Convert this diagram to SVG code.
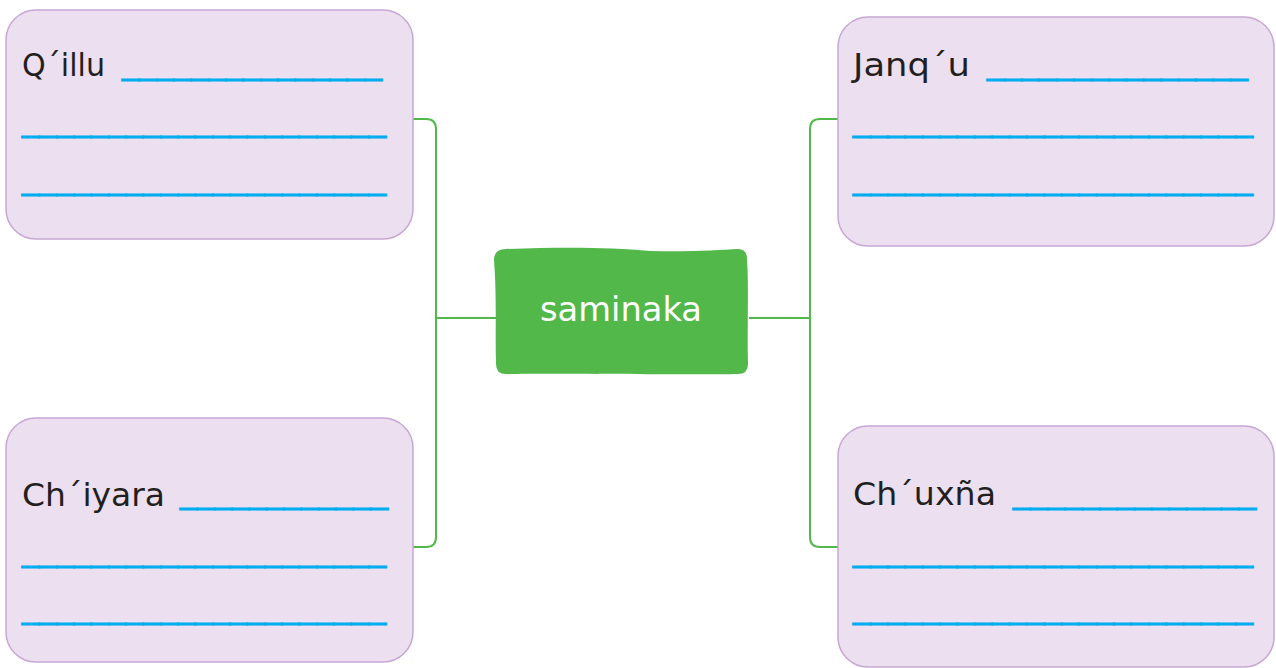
<svg xmlns="http://www.w3.org/2000/svg" width="1276" height="668" viewBox="0 0 1276 668">
<style>
.box{fill:#ece0f0;stroke:#c8a6d3;stroke-width:1.5}
.lbl{font-family:"DejaVu Sans",sans-serif;font-size:32px;fill:#231f20}
.blank{font-family:"Liberation Sans",sans-serif;font-size:32px;fill:#00aeef;stroke:#00aeef;stroke-width:1.2}
.conn{fill:none;stroke:#52b84a;stroke-width:2}
.ctr{font-family:"DejaVu Sans",sans-serif;font-size:34px;fill:#ffffff}
</style>
<rect width="1276" height="668" fill="#ffffff"/>
<g id="connectors">
<path class="conn" d="M413 119 H426 Q436 119 436 129 V537 Q436 547 426 547 H413 M436 318 H496"/>
<path class="conn" d="M838 119 H820 Q810 119 810 129 V537 Q810 547 820 547 H838 M749 318 H810"/>
</g>
<g id="center">
<path fill="#52b84a" d="M506 249 C560 247 610 247 650 251 C690 252 720 250 738 249 Q747 249 747 259 C749 290 747 330 748 364 Q748 374 738 374 C700 375 560 373 506 374 Q496 374 496 364 C495 330 497 300 494 260 Q494 249 506 249 Z"/>
<text class="ctr" x="540" y="321" textLength="162" lengthAdjust="spacingAndGlyphs">saminaka</text>
</g>
<g id="qillu">
<rect class="box" x="6" y="10" width="407" height="229" rx="30"/>
<text class="lbl" x="22" y="76" textLength="83" lengthAdjust="spacingAndGlyphs">Q´illu</text>
<text class="blank" x="122" y="75" textLength="260" lengthAdjust="spacingAndGlyphs">_______________</text>
<text class="blank" x="22" y="132" textLength="364" lengthAdjust="spacingAndGlyphs">_____________________</text>
<text class="blank" x="22" y="190" textLength="364" lengthAdjust="spacingAndGlyphs">_____________________</text>
</g>
<g id="janqu">
<rect class="box" x="838" y="17" width="436" height="229" rx="30"/>
<text class="lbl" x="853" y="76" textLength="117" lengthAdjust="spacingAndGlyphs">Janq´u</text>
<text class="blank" x="987" y="75" textLength="261" lengthAdjust="spacingAndGlyphs">_______________</text>
<text class="blank" x="853" y="132" textLength="400" lengthAdjust="spacingAndGlyphs">_______________________</text>
<text class="blank" x="853" y="190" textLength="400" lengthAdjust="spacingAndGlyphs">_______________________</text>
</g>
<g id="chiyara">
<rect class="box" x="6" y="418" width="407" height="244" rx="30"/>
<text class="lbl" x="22" y="506" textLength="143" lengthAdjust="spacingAndGlyphs">Ch´iyara</text>
<text class="blank" x="180" y="504" textLength="208" lengthAdjust="spacingAndGlyphs">____________</text>
<text class="blank" x="22" y="562" textLength="364" lengthAdjust="spacingAndGlyphs">_____________________</text>
<text class="blank" x="22" y="619" textLength="364" lengthAdjust="spacingAndGlyphs">_____________________</text>
</g>
<g id="chuxna">
<rect class="box" x="838" y="426" width="436" height="241" rx="30"/>
<text class="lbl" x="853" y="505" textLength="143" lengthAdjust="spacingAndGlyphs">Ch´uxña</text>
<text class="blank" x="1013" y="504" textLength="243" lengthAdjust="spacingAndGlyphs">______________</text>
<text class="blank" x="853" y="562" textLength="400" lengthAdjust="spacingAndGlyphs">_______________________</text>
<text class="blank" x="853" y="619" textLength="400" lengthAdjust="spacingAndGlyphs">_______________________</text>
</g>
</svg>
